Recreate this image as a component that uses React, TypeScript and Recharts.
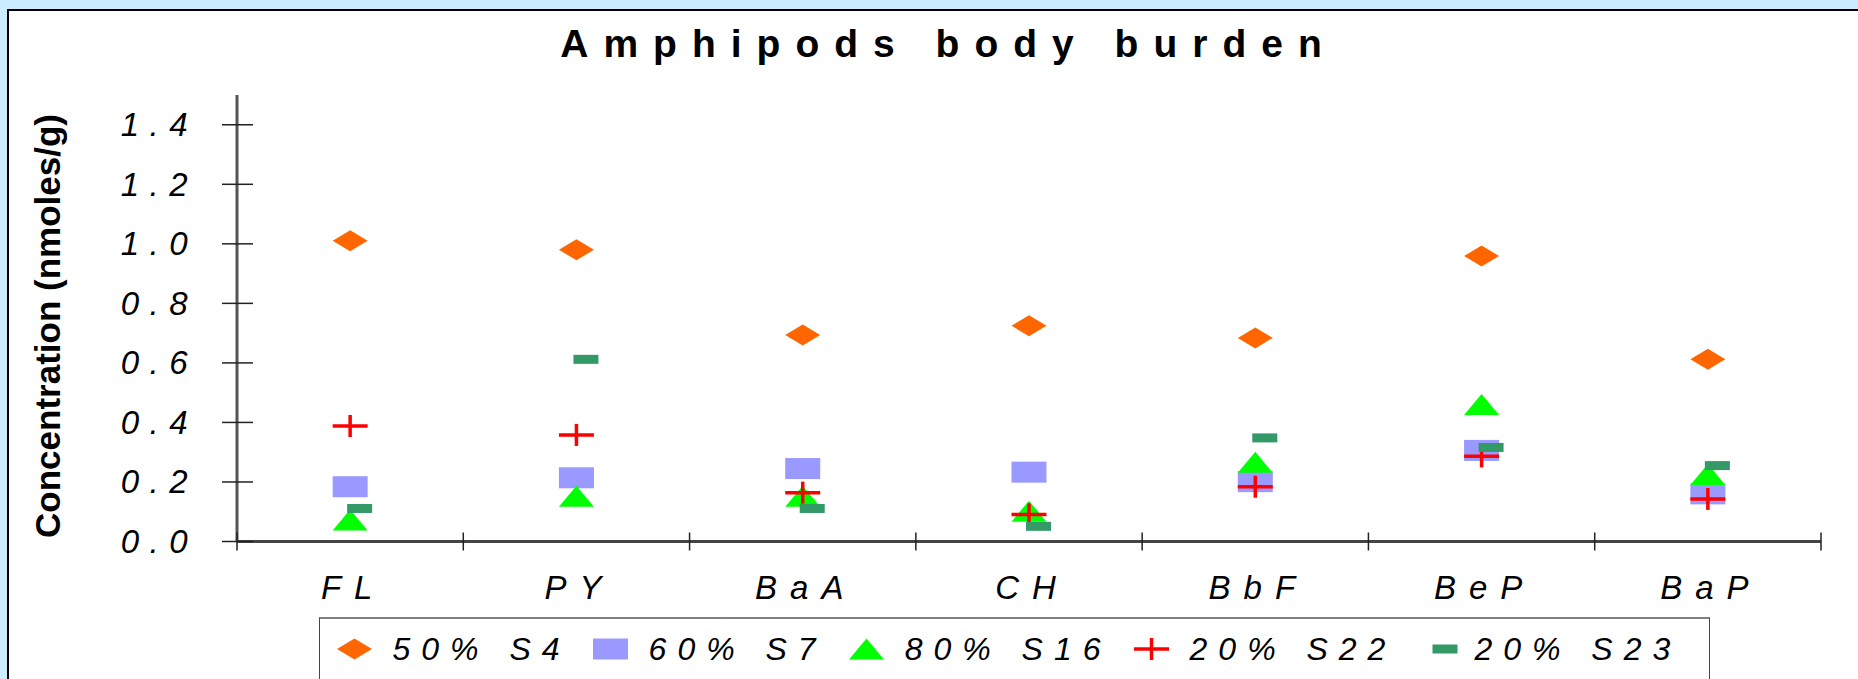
import { ComposedChart, Scatter, XAxis, YAxis, Legend } from 'recharts';

const categories = ['FL', 'PY', 'BaA', 'CH', 'BbF', 'BeP', 'BaP'];
const s4 = [1.01, 0.98, 0.694, 0.725, 0.684, 0.959, 0.612];
const s7 = [0.184, 0.214, 0.245, 0.233, 0.201, 0.306, 0.16];
const s16 = [0.072, 0.152, 0.152, 0.102, 0.266, 0.46, 0.225];
const s22 = [0.388, 0.358, 0.164, 0.091, 0.184, 0.286, 0.143];
const s23 = [0.111, 0.612, 0.111, 0.051, 0.348, 0.316, 0.255];
const seriesNames = ['50% S4', '60% S7', '80% S16', '20% S22', '20% S23'];
const yTicks = [0, 0.2, 0.4, 0.6, 0.8, 1.0, 1.2, 1.4];

const chartData = categories.map((name, i) => ({
  name,
  s4: s4[i],
  s7: s7[i],
  s16: s16[i],
  s22: s22[i],
  s23: s23[i],
}));

const FONT = '"Liberation Sans", Arial, Helvetica, sans-serif';

interface MarkProps {
  cx?: number,
  cy?: number,
}

const Diamond = ({ cx = 0, cy = 0 }: MarkProps) => (
  <polygon
    points={`${cx - 17.5},${cy} ${cx},${cy - 10.5} ${cx + 17.5},${cy} ${cx},${cy + 10.5}`}
    fill="#ff6600"
  />
);

const Square = ({ cx = 0, cy = 0 }: MarkProps) => (
  <rect x={cx - 17.5} y={cy - 10.5} width={35} height={21} fill="#9999ff" />
);

const Triangle = ({ cx = 0, cy = 0 }: MarkProps) => (
  <polygon
    points={`${cx},${cy - 10.5} ${cx + 17.5},${cy + 10.5} ${cx - 17.5},${cy + 10.5}`}
    fill="#00ff00"
  />
);

const Plus = ({ cx = 0, cy = 0 }: MarkProps) => (
  <g stroke="#ff0000" strokeWidth={3.5}>
    <line x1={cx - 17.5} x2={cx + 17.5} y1={cy} y2={cy} />
    <line x1={cx} x2={cx} y1={cy - 11} y2={cy + 11} />
  </g>
);

const Dash = ({ cx = 0, cy = 0 }: MarkProps) => (
  <rect x={cx - 3} y={cy - 4.5} width={25} height={9} fill="#339966" />
);

const series = [
  { key: 's4', name: seriesNames[0], Shape: Diamond },
  { key: 's7', name: seriesNames[1], Shape: Square },
  { key: 's16', name: seriesNames[2], Shape: Triangle },
  { key: 's22', name: seriesNames[3], Shape: Plus },
  { key: 's23', name: seriesNames[4], Shape: Dash },
];

const YTick = ({ x, y, payload }: any) => (
  <g>
    <line x1={x - 15} x2={x + 16} y1={y} y2={y} stroke="#222" strokeWidth={1.5} />
    <text
      x={x - 39}
      y={y}
      textAnchor="end"
      dominantBaseline="central"
      fill="#000"
      style={{ fontFamily: FONT, fontStyle: 'italic', fontSize: 33, letterSpacing: 10.5 }}
    >
      {Number(payload.value).toFixed(1)}
    </text>
  </g>
);

const XTick = ({ x, y, payload, index }: any) => {
  const half = payload.offset || 113.1;
  return (
    <g>
      <line x1={x - half} x2={x - half} y1={y - 9} y2={y + 9} stroke="#222" strokeWidth={1.5} />
      {index === categories.length - 1 && (
        <line x1={x + half} x2={x + half} y1={y - 9} y2={y + 9} stroke="#222" strokeWidth={1.5} />
      )}
      <text
        x={x + 3}
        y={y + 45.5}
        textAnchor="middle"
        dominantBaseline="central"
        fill="#000"
        style={{ fontFamily: FONT, fontStyle: 'italic', fontSize: 33, letterSpacing: 13 }}
      >
        {payload.value}
      </text>
    </g>
  );
};

const YTitle = () => (
  <text
    x={47}
    y={326}
    transform="rotate(-90 47 326)"
    textAnchor="middle"
    dominantBaseline="central"
    fill="#000"
    style={{ fontFamily: FONT, fontWeight: 'bold', fontSize: 35 }}
  >
    Concentration (nmoles/g)
  </text>
);

const LegendBox = () => (
  <div
    style={{
      boxSizing: 'border-box',
      width: '100%',
      height: '100%',
      background: '#fff',
      borderTop: '2px solid #808080',
      borderLeft: '1.5px solid #444',
      borderRight: '1.5px solid #444',
      display: 'flex',
      alignItems: 'center',
      paddingLeft: 16.5,
      fontFamily: FONT,
      fontStyle: 'italic',
      fontSize: 32,
      letterSpacing: 11,
      color: '#000',
      whiteSpace: 'nowrap',
    }}
  >
    {series.map(({ key, name, Shape }) => (
      <div key={key} style={{ display: 'flex', alignItems: 'center', marginRight: 22 }}>
        <svg width={35} height={22} style={{ overflow: 'visible', marginRight: 21 }}>
          <Shape cx={17.5} cy={11} />
        </svg>
        <span>{name}</span>
      </div>
    ))}
  </div>
);

const App = () => {
  return (
    <div
      style={{
        position: 'absolute',
        left: 0,
        top: 0,
        width: 1858,
        height: 679,
        overflow: 'hidden',
        background: '#ccecff',
      }}
    >
      <div
        style={{
          position: 'absolute',
          left: 7,
          top: 9,
          width: 1860,
          height: 680,
          background: '#fff',
          borderLeft: '2px solid #000',
          borderTop: '2px solid #000',
        }}
      />
      <div
        style={{
          position: 'absolute',
          left: 448.5,
          top: 23.5,
          width: 1000,
          textAlign: 'center',
          fontFamily: FONT,
          fontWeight: 'bold',
          fontSize: 39,
          lineHeight: '39px',
          letterSpacing: 15,
          color: '#000',
          whiteSpace: 'nowrap',
        }}
      >
        Amphipods body burden
      </div>
      <div style={{ position: 'absolute', left: 0, top: 0 }}>
        <ComposedChart
          width={1858}
          height={679}
          data={chartData}
          margin={{ top: 95, right: 37, bottom: 77.5, left: 0 }}
        >
          <XAxis
            dataKey="name"
            type="category"
            scale="band"
            interval={0}
            height={60}
            tickSize={0}
            tickMargin={0}
            tickLine={false}
            axisLine={{ stroke: '#444', strokeWidth: 3 }}
            tick={<XTick />}
          />
          <XAxis
            xAxisId="top"
            dataKey="name"
            orientation="top"
            height={0}
            tick={false}
            tickLine={false}
            axisLine={{ stroke: '#888', strokeWidth: 3 }}
          />
          <YAxis
            type="number"
            domain={[0, 1.5]}
            ticks={yTicks}
            width={237}
            tickSize={0}
            tickMargin={0}
            tickLine={false}
            axisLine={{ stroke: '#555', strokeWidth: 3 }}
            tick={<YTick />}
            label={<YTitle />}
          />
          <YAxis
            yAxisId="right"
            orientation="right"
            domain={[0, 1]}
            width={0}
            tick={false}
            tickLine={false}
            axisLine={{ stroke: '#888', strokeWidth: 4 }}
          />
          {series.map(({ key, name, Shape }) => (
            <Scatter
              key={key}
              dataKey={key}
              name={name}
              isAnimationActive={false}
              shape={(props: any) => <Shape cx={props.cx} cy={props.cy} />}
            />
          ))}
          <Legend
            layout="horizontal"
            verticalAlign="middle"
            align="center"
            content={<LegendBox />}
            wrapperStyle={{ left: 319, top: 617, width: 1391, height: 62, bottom: 'auto' }}
          />
        </ComposedChart>
      </div>
    </div>
  );
};

export default App;
